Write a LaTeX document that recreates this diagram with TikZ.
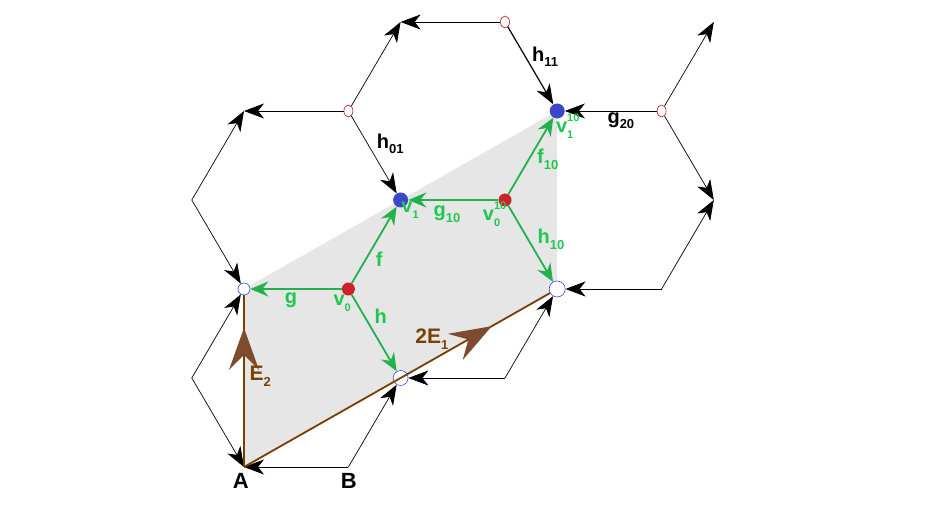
\documentclass[tikz,border=0pt]{standalone}
\usepackage{fontspec}
\setmainfont{Liberation Sans}
\usetikzlibrary{arrows.meta,shapes.geometric,decorations.markings}

\definecolor{grnline}{RGB}{34,177,76}
\definecolor{grntext}{RGB}{30,200,80}
\definecolor{brnline}{RGB}{122,61,0}
\definecolor{brnhead}{RGB}{125,75,45}
\definecolor{brntext}{RGB}{122,66,0}
\definecolor{dotred}{RGB}{204,34,40}
\definecolor{dotblue}{RGB}{60,70,200}
\definecolor{ringred}{RGB}{190,20,20}
\definecolor{holeblue}{RGB}{70,70,220}
\definecolor{cellgray}{RGB}{230,230,230}

\newcommand{\lsub}[1]{\raisebox{-0.28em}{\fontsize{13}{13}\selectfont #1}}
\newcommand{\vsub}[1]{\raisebox{-0.3em}{\fontsize{11}{11}\selectfont #1}}
\newcommand{\vsup}[1]{\rlap{\raisebox{0.55em}{\fontsize{11}{11}\selectfont #1}}}

\tikzset{
  latt/.style={draw=black, line width=0.7pt, -{Stealth[length=20pt,width=15pt,inset=6pt]}},
  grn/.style={draw=grnline, line width=1.8pt, -{Stealth[length=18pt,width=15pt,inset=6pt]}},
  brn/.style={draw=brnline, line width=1.8pt, postaction={decorate},
    decoration={markings, mark=at position 0.81 with
      {\arrow{Stealth[length=42pt,width=30pt,inset=15pt,color=brnhead]}}}},
  reddot/.style={circle, fill=dotred, inner sep=0pt, minimum size=13pt},
  bluedot/.style={circle, fill=dotblue, inner sep=0pt, minimum size=15pt},
  hole/.style={circle, draw=holeblue, fill=white, line width=0.6pt, inner sep=0pt, minimum size=12pt},
  ring/.style={ellipse, draw=ringred, fill=white, line width=0.6pt, inner sep=0pt,
    minimum width=9pt, minimum height=12pt},
  grnlbl/.style={text=grntext, font=\fontsize{20}{20}\selectfont\bfseries, inner sep=0pt},
  blklbl/.style={text=black, font=\fontsize{20}{20}\selectfont\bfseries, inner sep=0pt},
  brnlbl/.style={text=brntext, font=\fontsize{21}{21}\selectfont\bfseries, inner sep=0pt},
  ptlbl/.style={text=black, font=\fontsize{22}{22}\selectfont\bfseries, inner sep=0pt}
}

\begin{document}
\begin{tikzpicture}[x=52.2pt, y=89pt]
\useasboundingbox (-244pt,-50pt) rectangle (692pt,467pt);

% lattice points
\coordinate (A) at (0,0);
\coordinate (B) at (2,0);
\coordinate (c1) at (-1,1);
\coordinate (c2) at (5,1);
\coordinate (c3) at (8,2);
\coordinate (c4) at (-1,3);
\coordinate (c5) at (9,3);
\coordinate (c6) at (0,4);
\coordinate (c7) at (3,5);
\coordinate (c8) at (9,5);

% unit cell
\fill[cellgray] (0,0) -- (6,2) -- (6,4) -- (0,2) -- cycle;

\node[hole] (w1) at (0,2) {};
\node[hole, minimum size=15pt] (w2) at (3,1) {};
\node[hole, minimum size=16pt] (w3) at (6,2) {};
\node[reddot] (v0) at (2,2) {};
\node[reddot] (v10) at (5,3) {};
\node[bluedot] (v1) at (3,3) {};
\node[bluedot] (v110) at (6,4) {};
\node[ring] (r1) at (2,4) {};
\node[ring] (r2) at (5,5) {};
\node[ring] (r3) at (8,4) {};

% black bonds
\draw[latt] (B) -- (A);
\draw[latt] (c1) -- (A);
\draw[latt] (c1) -- (w1);
\draw[latt] (B) -- (w2);
\draw[latt] (c2) -- (w2);
\draw[latt] (c2) -- (w3);
\draw[latt] (c3) -- (w3);
\draw[latt] (c3) -- (c5);
\draw[latt] (r3) -- (c5);
\draw[latt] (r3) -- (c8);
\draw[latt] (r3) -- (v110);
\draw[latt, line width=1.2pt] (r2) -- (v110);
\draw[latt] (r2) -- (c7);
\draw[latt] (r1) -- (c7);
\draw[latt] (r1) -- (c6);
\draw[latt] (r1) -- (v1);
\draw[latt] (c4) -- (c6);
\draw[latt] (c4) -- (w1);

% brown vectors
\draw[brn] (A) -- (w1);
\draw[brn] (A) -- (w3);

% green bonds
\draw[grn] (v0) -- (w1);
\draw[grn] (v0) -- (v1);
\draw[grn] (v0) -- (w2);
\draw[grn] (v10) -- (v1);
\draw[grn] (v10) -- (v110);
\draw[grn] (v10) -- (w3);

% labels
\node[grnlbl] (lg) at (0.90,1.87) {g};
\node[grnlbl] (lf) at (2.59,2.33) {f};
\node[grnlbl] (lh) at (2.62,1.69) {h};
\node[grnlbl] (lv0) at (1.88,1.84) {v\vsub{0}};
\node[grnlbl] (lv1) at (3.18,2.88) {v\vsub{1}};
\node[grnlbl] (lg10) at (3.89,2.84) {g\lsub{10}};
\node[grnlbl] (lv10) at (4.85,2.84) {v\vsup{10}\vsub{0}\phantom{0}};
\node[grnlbl] (lh10) at (5.88,2.56) {h\lsub{10}};
\node[grnlbl] (lf10) at (5.82,3.46) {f\lsub{10}};
\node[grnlbl] (lv110) at (6.25,3.83) {v\vsup{10}\vsub{1}\phantom{0}};
\node[blklbl] (lg20) at (7.22,3.89) {g\lsub{20}};
\node[blklbl] (lh01) at (2.80,3.63) {h\lsub{01}};
\node[blklbl] (lh11) at (5.77,4.61) {h\lsub{11}};
\node[brnlbl] (lE2) at (0.31,1.02) {E\lsub{2}};
\node[brnlbl] (lE1) at (3.60,1.44) {2E\lsub{1}};
\node[ptlbl] (lA) at (-0.06,-0.16) {A};
\node[ptlbl] (lB) at (2.01,-0.16) {B};
\end{tikzpicture}
\end{document}
